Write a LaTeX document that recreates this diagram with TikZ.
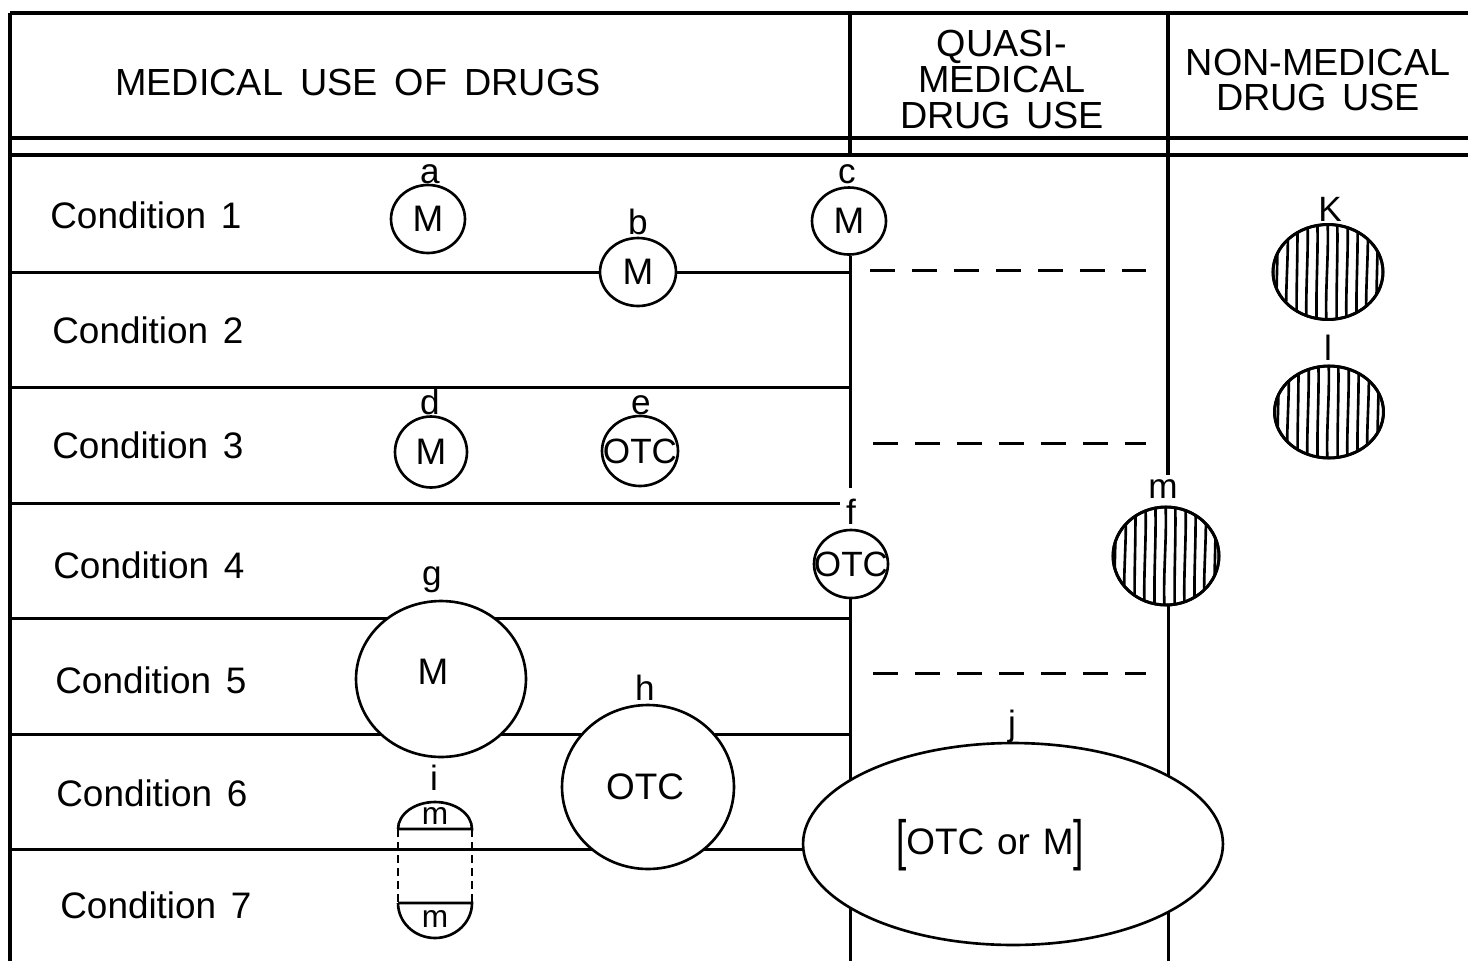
\documentclass[tikz,border=0pt]{standalone}
\usepackage{fontspec}
\setmainfont{Liberation Sans}
\usetikzlibrary{shapes.geometric}
\begin{document}
\begin{tikzpicture}[x=0.02cm,y=-0.02cm,
  frame/.style={line width=1.8pt},
  gridline/.style={line width=1.7pt},
  dashline/.style={line width=1.7pt, dash pattern=on 0.5cm off 0.34cm},
  pilldash/.style={line width=1.6pt, dash pattern=on 0.16cm off 0.1cm},
  disc/.style={ellipse, draw, line width=1.5pt, fill=white, inner sep=0pt},
  hatch/.style={line width=1.5pt},
  intext/.style={inner sep=0pt, font=\fontsize{21}{21}\selectfont},
  lab/.style={anchor=base, inner sep=0pt, font=\fontsize{20}{20}\selectfont},
  smalllab/.style={anchor=base, inner sep=0pt, font=\fontsize{18}{18}\selectfont},
  cond/.style={anchor=base west, inner sep=0pt, font=\fontsize{21}{21}\selectfont},
  head/.style={anchor=base, inner sep=0pt, font=\fontsize{21.5}{21.5}\selectfont}]
\useasboundingbox (0,0) rectangle (1468,961);

% ---- frame and header ----
\coordinate (TL) at (10,13); \coordinate (TR) at (1468,13);
\coordinate (BL) at (10,961);
\draw[frame] (TL) -- (TR);
\draw[frame] (TL) -- (BL);
\coordinate (H1L) at (10,138); \coordinate (H1R) at (1468,138);
\coordinate (H2L) at (10,155); \coordinate (H2R) at (1468,155);
\draw[frame] (H1L) -- (H1R);
\draw[frame] (H2L) -- (H2R);
\coordinate (V1T) at (850,13); \coordinate (V1H) at (850,155);
\draw[frame] (V1T) -- (V1H);
\coordinate (V2T) at (1168,13); \coordinate (V2a) at (1168,475);
\draw[frame] (V2T) -- (V2a);

\node[head] (hmed) at (358,95) {MEDICAL\hspace{0.45em}USE\hspace{0.45em}OF\hspace{0.45em}DRUGS};
\node[head] (hq1) at (1002,56) {QUASI-};
\node[head] (hq2) at (1002,92) {MEDICAL};
\node[head] (hq3) at (1002,128) {DRUG\hspace{0.4em}USE};
\node[head] (hn1) at (1318,75) {NON-MEDICAL};
\node[head] (hn2) at (1318,110) {DRUG\hspace{0.4em}USE};

% ---- row lines ----
\foreach \y/\xr [count=\k] in {272/850, 387/850, 503/840, 618/850, 734/850, 849/850}{
  \coordinate (R\k L) at (10,\y);
  \coordinate (R\k R) at (\xr,\y);
  \draw[gridline] (R\k L) -- (R\k R);
}

% ---- vertical line end points in body ----
\coordinate (V1a) at (850,488);
\coordinate (V1B) at (850,961);
\coordinate (V2B) at (1168,961);

% ---- dashed lines ----
\coordinate (D1L) at (870,270); \coordinate (D1R) at (1146,270);
\coordinate (D2L) at (873,443); \coordinate (D2R) at (1146,443);
\coordinate (D3L) at (873,673); \coordinate (D3R) at (1146,673);
\draw[dashline] (D1L) -- (D1R);
\draw[dashline] (D2L) -- (D2R);
\draw[dashline] (D3L) -- (D3R);

% ---- condition labels ----
\node[cond] (c1) at (50,228) {Condition\hspace{0.4em}1};
\node[cond] (c2) at (52,343) {Condition\hspace{0.4em}2};
\node[cond] (c3) at (52,458) {Condition\hspace{0.4em}3};
\node[cond] (c4) at (53,578) {Condition\hspace{0.4em}4};
\node[cond] (c5) at (55,693) {Condition\hspace{0.4em}5};
\node[cond] (c6) at (56,806) {Condition\hspace{0.4em}6};
\node[cond] (c7) at (60,918) {Condition\hspace{0.4em}7};

% ---- circles ----
\node[disc, minimum width=1.48cm, minimum height=1.36cm] (a) at (428,219) {};
\node[intext] at (a.center) {M};
\node[lab] (la) at (430,183) {a};

\node[disc, minimum width=1.52cm, minimum height=1.36cm] (b) at (638,272) {};
\node[intext] at (b.center) {M};
\node[lab] (lb) at (638,234) {b};

\node[disc, minimum width=1.48cm, minimum height=1.34cm] (c) at (849,221) {};
\node[intext] at (c.center) {M};
\node[lab] (lc) at (847,183) {c};
\draw[gridline] (V1a |- c.south) -- (V1a);

\node[disc, minimum width=1.44cm, minimum height=1.42cm] (d) at (431,452) {};
\node[intext] at (d.center) {M};
\node[lab] (ld) at (430,414) {d};

\node[disc, minimum width=1.52cm, minimum height=1.40cm] (e) at (640,451) {};
\node[intext] at (e.center) {\fontsize{20}{20}\selectfont OTC};
\node[lab] (le) at (641,414) {e};

\draw[gridline] (850,564) -- (V1B);
\node[disc, minimum width=1.48cm, minimum height=1.36cm] (f) at (851,564) {};
\node[intext] at (f.center) {\fontsize{20}{20}\selectfont OTC};
\node[lab] (lf) at (851,524) {f};

\node[disc, minimum width=3.40cm, minimum height=3.12cm] (g) at (441,679) {};
\node[intext] at (433,672) {M};
\node[lab] (lg) at (432,585) {g};

\node[disc, minimum width=3.44cm, minimum height=3.28cm] (h) at (648,787) {};
\node[intext] at (645,787) {OTC};
\node[lab] (lh) at (645,700) {h};

% ---- hatched circles ----
\newcommand{\hatchdisc}[3]{% center, xr(cm), yr(cm)
  \begin{scope}
    \clip #1 ellipse [x radius=#2, y radius=#3];
    \begin{scope}[shift={#1}]
      \foreach \hx/\hw in {-51/2,-41/3,-31/1.5,-21/2.5,-11/2,-1/3,9/1.5,19/2.5,29/2,39/3,49/2}
        \draw[hatch] (\hx,-60) .. controls (\hx+\hw,-20) and (\hx-\hw,20) .. (\hx,60);
    \end{scope}
  \end{scope}
  \draw[line width=1.7pt] #1 ellipse [x radius=#2, y radius=#3];
}
\node[disc, minimum width=2.2cm, minimum height=1.9cm] (K) at (1328,272) {};
\hatchdisc{(K.center)}{1.1cm}{0.95cm}
\node[lab] (lK) at (1330,221) {K};

\node[disc, minimum width=2.18cm, minimum height=1.84cm] (l) at (1329,412) {};
\hatchdisc{(l.center)}{1.09cm}{0.92cm}
\node[lab] (ll) at (1328,360) {l};

\draw[gridline] (1168,556) -- (V2B);
\node[disc, minimum width=2.12cm, minimum height=1.96cm] (m) at (1166,556) {};
\hatchdisc{(m.center)}{1.06cm}{0.98cm}
\node[lab] (lm) at (1163,498) {m};

% ---- pill i ----
\coordinate (iTL) at (398,829); \coordinate (iTR) at (472,829);
\coordinate (iBL) at (398,903); \coordinate (iBR) at (472,903);
\draw[line width=1.5pt] (iTL) -- (iTR) arc[start angle=0, end angle=180, x radius=0.74cm, y radius=0.54cm];
\draw[line width=1.5pt] (iBL) -- (iBR) arc[start angle=0, end angle=-180, x radius=0.74cm, y radius=0.70cm];
\draw[pilldash] (iTL) -- (iBL);
\draw[pilldash] (iTR) -- (iBR);
\node[smalllab] (mi1) at (435,824) {m};
\node[smalllab] (mi2) at (435,927) {m};
\node[lab] (li) at (434,790) {i};

% ---- ellipse j ----
\node[disc, minimum width=8.40cm, minimum height=4.04cm] (j) at (1013,844) {};
\node[intext] at (990,845) {\raisebox{-0.12em}{\scalebox{1}[1.5]{[}}OTC\hspace{0.35em}or\hspace{0.35em}M\raisebox{-0.12em}{\scalebox{1}[1.5]{]}}};
\node[lab] (lj) at (1012,735) {j};
\end{tikzpicture}
\end{document}
